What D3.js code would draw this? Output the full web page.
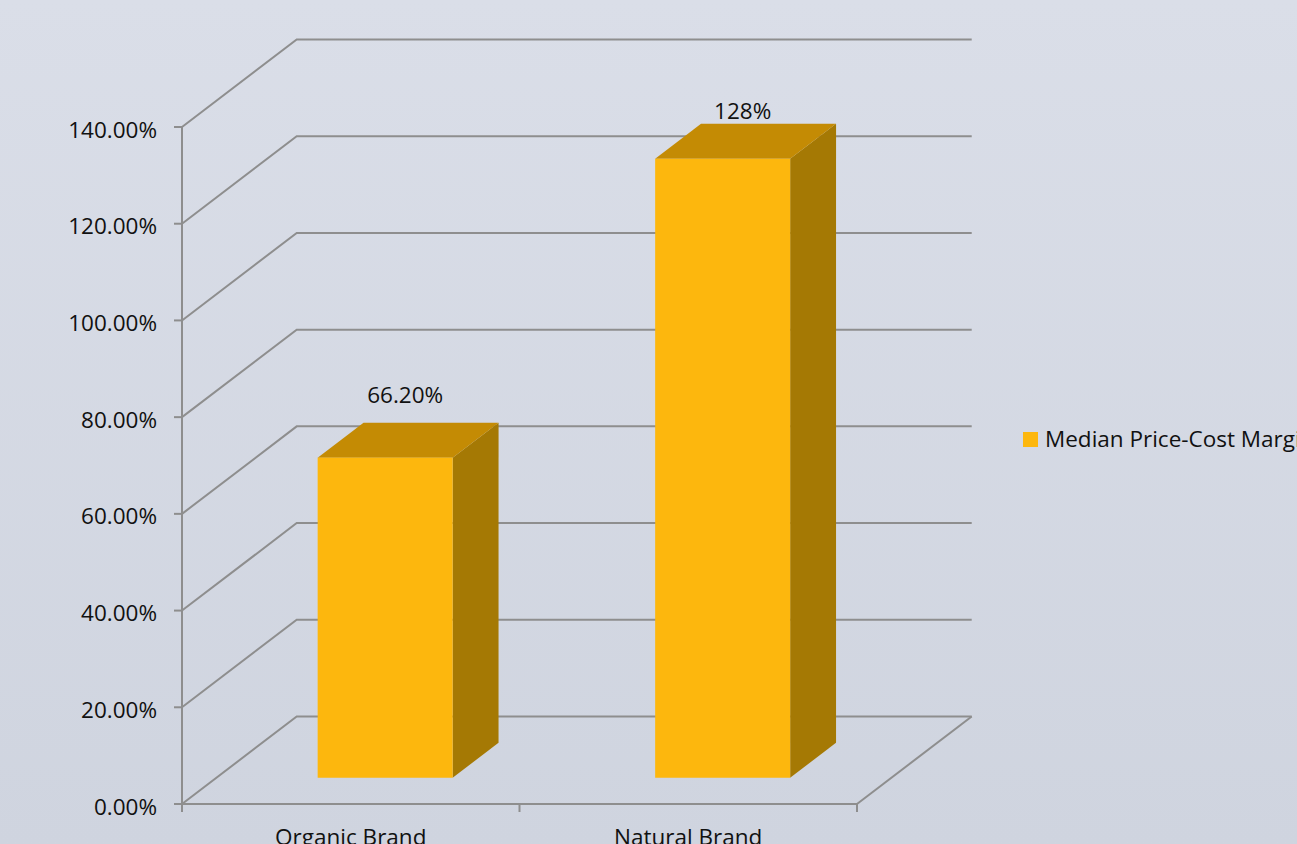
<!DOCTYPE html>
<html>
<head>
<meta charset="utf-8">
<script src="https://cdn.jsdelivr.net/npm/d3@7"></script>
<style>
  html, body { margin: 0; padding: 0; overflow: hidden; }
  body { width: 1297px; height: 844px; }
  text { font-family: "Open Sans", "Noto Sans", sans-serif; fill: #111; }
</style>
</head>
<body>
<svg id="chart" width="1297" height="844"></svg>
<script>
// ---- data ----
const categories = ["Organic Brand", "Natural Brand"];
const seriesName = "Median Price-Cost Margin";
const values = [0.662, 1.28];
const valueLabels = ["66.20%", "128%"];
const yTicks = [0, 0.2, 0.4, 0.6, 0.8, 1.0, 1.2, 1.4];
const yTickLabels = ["0.00%", "20.00%", "40.00%", "60.00%", "80.00%", "100.00%", "120.00%", "140.00%"];

// ---- layout ----
const W = 1297, H = 844;
const front = { left: 182, right: 857, bottom: 804, top: 127 };
const depth = { dx: 114.7, dy: -87.5 };      // full depth offset of back wall
const barDepth = { start: 0.3, end: 0.7 };   // bar position within depth
const labelDy = [-55, -40];
const fontSize = 22.5;
const gridColor = "#8e8e8e";
const colors = { front: "#FDB70D", top: "#C48B04", side: "#A57904" };

const svg = d3.select("#chart");

// background gradient
const defs = svg.append("defs");
const grad = defs.append("linearGradient").attr("id", "bg").attr("x1", 0).attr("y1", 0).attr("x2", 0).attr("y2", 1);
grad.append("stop").attr("offset", "0%").attr("stop-color", "#dadee8");
grad.append("stop").attr("offset", "100%").attr("stop-color", "#cfd4df");
svg.append("rect").attr("width", W).attr("height", H).attr("fill", "url(#bg)");

const y = d3.scaleLinear().domain([0, 1.4]).range([front.bottom, front.top]);
const x = d3.scaleBand().domain(categories).range([front.left, front.right]).paddingInner(0).paddingOuter(0);
const bandW = 0.4; // fraction of step

const proj = (px, py, t) => [px + depth.dx * t, py + depth.dy * t];

// gridlines (side wall + back wall)
const grid = svg.append("g");
yTicks.forEach(v => {
  const p0 = [front.left, y(v)];
  const p1 = proj(front.left, y(v), 1);
  const p2 = proj(front.right, y(v), 1);
  grid.append("polyline")
    .attr("points", [p0, p1, p2].map(p => p.join(",")).join(" "))
    .attr("fill", "none").attr("stroke", gridColor).attr("stroke-width", 2);
});
// floor front & right edge
grid.append("line").attr("x1", front.left).attr("x2", front.right).attr("y1", y(0)).attr("y2", y(0))
  .attr("stroke", gridColor).attr("stroke-width", 2);
const fr = proj(front.right, y(0), 1);
grid.append("line").attr("x1", front.right).attr("y1", y(0)).attr("x2", fr[0]).attr("y2", fr[1])
  .attr("stroke", gridColor).attr("stroke-width", 2);

// y axis
const axisG = svg.append("g");
axisG.append("line").attr("x1", front.left).attr("x2", front.left).attr("y1", y(1.4)).attr("y2", y(0))
  .attr("stroke", gridColor).attr("stroke-width", 2);
yTicks.forEach((v, i) => {
  axisG.append("line").attr("x1", front.left - 8).attr("x2", front.left).attr("y1", y(v)).attr("y2", y(v))
    .attr("stroke", gridColor).attr("stroke-width", 2);
  axisG.append("text").attr("x", front.left - 25).attr("y", y(v) + 10.5)
    .attr("text-anchor", "end").attr("font-size", fontSize).text(yTickLabels[i]);
});
// category ticks
const catEdges = [front.left].concat(categories.map(c => x(c) + x.step()));
catEdges.forEach(cx => {
  axisG.append("line").attr("x1", cx).attr("x2", cx).attr("y1", y(0)).attr("y2", y(0) + 8)
    .attr("stroke", gridColor).attr("stroke-width", 2);
});
categories.forEach(c => {
  axisG.append("text").attr("x", x(c) + x.step() / 2).attr("y", 845)
    .attr("text-anchor", "middle").attr("font-size", fontSize).text(c);
});

// bars
const barsG = svg.append("g");
categories.forEach((c, i) => {
  const cx = x(c) + x.step() / 2;
  const w = x.step() * bandW;
  const [fl, fb] = proj(cx - w / 2, y(0), barDepth.start);
  const [fr2] = proj(cx + w / 2, y(0), barDepth.start);
  const ft = fb - (y(0) - y(values[i]));
  const d = barDepth.end - barDepth.start;
  const ddx = depth.dx * d, ddy = depth.dy * d;
  // side face
  barsG.append("polygon")
    .attr("points", [[fr2, fb], [fr2 + ddx, fb + ddy], [fr2 + ddx, ft + ddy], [fr2, ft]].map(p => p.join(",")).join(" "))
    .attr("fill", colors.side);
  // top face
  barsG.append("polygon")
    .attr("points", [[fl, ft], [fl + ddx, ft + ddy], [fr2 + ddx, ft + ddy], [fr2, ft]].map(p => p.join(",")).join(" "))
    .attr("fill", colors.top);
  // front face
  barsG.append("rect").attr("x", fl).attr("y", ft).attr("width", fr2 - fl).attr("height", fb - ft)
    .attr("fill", colors.front);
  // value label
  barsG.append("text").attr("x", (fl + fr2) / 2 + 20).attr("y", ft + labelDy[i])
    .attr("text-anchor", "middle").attr("font-size", fontSize).text(valueLabels[i]);
});

// legend
const lg = svg.append("g").attr("transform", "translate(1023,432)");
lg.append("rect").attr("width", 15).attr("height", 15).attr("fill", colors.front);
lg.append("text").attr("x", 22).attr("y", 15).attr("font-size", fontSize).text(seriesName);
</script>
</body>
</html>
